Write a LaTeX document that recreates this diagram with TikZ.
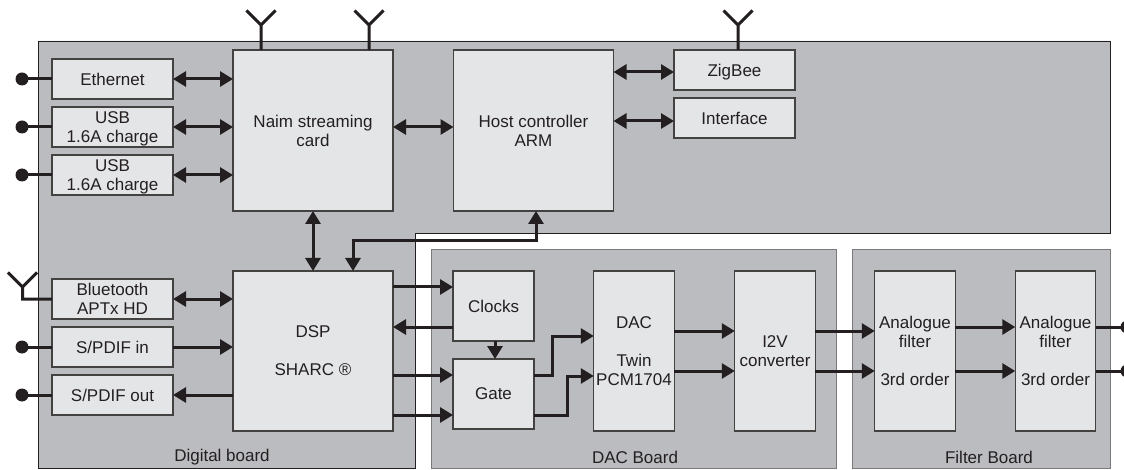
\documentclass[tikz,border=0pt]{standalone}
\usepackage{fontspec}
\setmainfont{Liberation Sans}
\usetikzlibrary{arrows.meta}
\usetikzlibrary{calc}
\definecolor{boardgray}{HTML}{BBBCC0}
\definecolor{boxgray}{HTML}{E4E5E7}
\definecolor{inkline}{HTML}{231F20}
\tikzstyle{board}=[draw=inkline,fill=boardgray,line width=0.9pt]
\tikzstyle{block}=[draw=inkline!85,fill=boxgray,line width=1.2pt,inner sep=0pt,outer sep=0pt,align=center,text=inkline,font=\fontsize{17}{19}\selectfont]
\tikzstyle{small}=[block,minimum width=121pt,minimum height=40pt]
\tikzstyle{big}=[block,minimum width=160pt,minimum height=161pt]
\tikzstyle{tall}=[block,minimum width=80.5pt,minimum height=160pt]
\tikzstyle{clock}=[block,minimum width=81pt,minimum height=70pt]
\tikzstyle{dot}=[circle,fill=inkline,minimum size=13pt,inner sep=0pt,outer sep=0pt]
\tikzstyle{title}=[text=inkline,inner sep=0pt,font=\fontsize{17}{19}\selectfont]
\tikzstyle{wire}=[draw=inkline,line width=3pt]
\tikzstyle{bus}=[wire,{Triangle[length=13pt,width=15pt]}-{Triangle[length=13pt,width=15pt]}]
\tikzstyle{feed}=[wire,-{Triangle[length=13pt,width=15pt]}]

\begin{document}
\begin{tikzpicture}[x=1pt,y=-1pt]
\useasboundingbox (0,0) rectangle (1124,470);
% boards
    \draw [board] (38,41) -- (1110,41) -- (1110,233) -- (415,233) -- (415,468) -- (38,468) -- cycle;
    \draw [board,draw=inkline!60] (431,249) rectangle (836,468);
    \draw [board,draw=inkline!60] (852,249) rectangle (1110,468);
    \node [title] (digital) at (222,457) {Digital board};
    \node [title] (dacboard) at (635,457) {DAC Board};
    \node [title] (filterboard) at (989,457) {Filter Board};

% digital board, top row
    \node [small] (ethernet) at (112.5,79) {Ethernet};
    \node [small,text depth=0pt] (usba) at (112.5,127) {USB\\1.6A charge};
    \node [small,text depth=0pt] (usbb) at (112.5,175) {USB\\1.6A charge};
    \node [big] (naim) at (313,130.5) {Naim streaming\\card};
    \node [big] (host) at (533.5,130.5) {Host controller\\ARM};
    \node [small,text depth=0pt] (zigbee) at (734.5,70) {ZigBee};
    \node [small] (interface) at (734.5,118) {Interface};

% digital board, bottom row
    \node [small] (bluetooth) at (112.5,299) {Bluetooth\\APTx HD};
    \node [small] (spdifin) at (112.5,347) {S/PDIF in};
    \node [small] (spdifout) at (112.5,395) {S/PDIF out};
    \node [big,minimum height=160pt] (dsp) at (313,351) {DSP\\[19pt]SHARC ®};

% dac and filter boards
    \node [clock] (clocks) at (493.5,306) {Clocks};
    \node [clock] (gate) at (493.5,394) {Gate};
    \node [tall] (dac) at (634,351) {DAC\\[19pt]Twin\\PCM1704};
    \node [tall] (itov) at (775,351) {I2V\\converter};
    \node [tall] (filtera) at (915,351) {Analogue\\filter\\[19pt]3rd order};
    \node [tall] (filterb) at (1055.5,351) {Analogue\\filter\\[19pt]3rd order};

% terminals
    \node [dot] (dote) at (22,79) {};
    \node [dot] (dotu) at (22,127) {};
    \node [dot] (dotv) at (22,175) {};
    \node [dot] (dots) at (22,347) {};
    \node [dot] (dott) at (22,395) {};
    \node [dot] (outa) at (1127,327) {};
    \node [dot] (outb) at (1127,371) {};
    \draw [wire] (dote.center) -- (ethernet.west);
    \draw [wire] (dotu.center) -- (usba.west);
    \draw [wire] (dotv.center) -- (usbb.west);
    \draw [wire] (dots.center) -- (spdifin.west);
    \draw [wire] (dott.center) -- (spdifout.west);
    \draw [wire] (filterb.east |- outa) -- (outa.center);
    \draw [wire] (filterb.east |- outb) -- (outb.center);

% aerials
    \coordinate (aerial1) at (261,25);
    \coordinate (aerial2) at (369,25);
    \coordinate (aerial3) at (738,25);
    \coordinate (aerial4) at (22.5,287);
    \draw [wire] (naim.north -| aerial1) -- (aerial1) -- ++(-14.5,-14.5) (aerial1) -- ++(14.5,-14.5);
    \draw [wire] (naim.north -| aerial2) -- (aerial2) -- ++(-14.5,-14.5) (aerial2) -- ++(14.5,-14.5);
    \draw [wire] (zigbee.north -| aerial3) -- (aerial3) -- ++(-14.5,-14.5) (aerial3) -- ++(14.5,-14.5);
    \draw [wire] (bluetooth.west) -| (aerial4) -- ++(-14.5,-14.5) (aerial4) -- ++(14.5,-14.5);

% links
    \draw [bus] (ethernet.east) -- (naim.west |- ethernet.east);
    \draw [bus] (usba.east) -- (naim.west |- usba.east);
    \draw [bus] (usbb.east) -- (naim.west |- usbb.east);
    \draw [bus] (naim.east |- usba.east) -- (host.west |- usba.east);
    \draw [bus] (host.east |- 0,72) -- (zigbee.west |- 0,72);
    \draw [bus] (host.east |- 0,121) -- (interface.west |- 0,121);
    \draw [bus] (naim.south) -- (dsp.north);
    \draw [bus] (host.south -| 536,0) -- (536,241) -- (353,241) -- (dsp.north -| 353,0);
    \draw [bus] (bluetooth.east) -- (dsp.west |- bluetooth.east);
    \draw [feed] (spdifin.east) -- (dsp.west |- spdifin.east);
    \draw [feed] (dsp.west |- spdifout.east) -- (spdifout.east);
    \draw [feed] (dsp.east |- 0,287) -- (clocks.west |- 0,287);
    \draw [feed] (clocks.west |- 0,327) -- (dsp.east |- 0,327);
    \draw [feed] (clocks.south -| 495,0) -- (gate.north -| 495,0);
    \draw [feed] (dsp.east |- 0,375) -- (gate.west |- 0,375);
    \draw [feed] (dsp.east |- 0,415) -- (gate.west |- 0,415);
    \draw [feed] (gate.east |- 0,375) -- (552,375) -- (552,336) -- (dac.west |- 0,336);
    \draw [feed] (gate.east |- 0,415) -- (567,415) -- (567,376) -- (dac.west |- 0,376);
    \draw [feed] (dac.east |- 0,331) -- (itov.west |- 0,331);
    \draw [feed] (dac.east |- 0,371) -- (itov.west |- 0,371);
    \draw [feed] (itov.east |- 0,331) -- (filtera.west |- 0,331);
    \draw [feed] (itov.east |- 0,371) -- (filtera.west |- 0,371);
    \draw [feed] (filtera.east |- 0,327) -- (filterb.west |- 0,327);
    \draw [feed] (filtera.east |- 0,371) -- (filterb.west |- 0,371);
\end{tikzpicture}
\end{document}
